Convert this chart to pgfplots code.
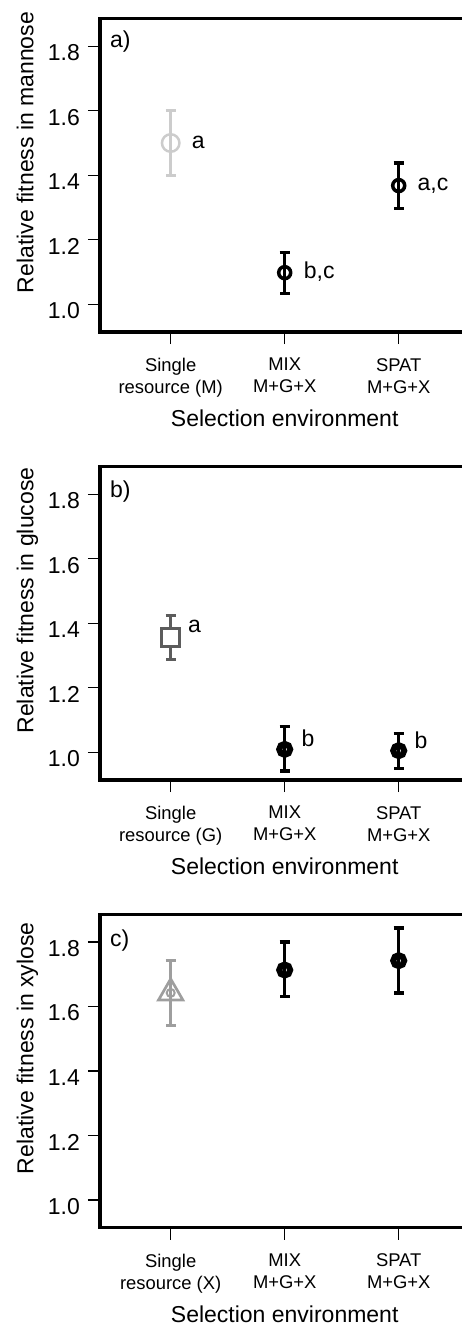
\documentclass[border=0pt]{standalone}
\usepackage{fontspec}
\setmainfont{Liberation Sans}
\usepackage{pgfplots}
\pgfplotsset{compat=1.18}

\definecolor{ga}{gray}{0.80}
\definecolor{gb}{gray}{0.36}
\definecolor{gc}{gray}{0.62}

\newcommand{\bigf}{\fontsize{23}{23}\selectfont}
\newcommand{\smf}{\fontsize{18.4}{22}\selectfont}

\pgfplotsset{
  panel/.style={
    scale only axis, width=369.4pt, height=313.5pt,
    xmin=0.38, xmax=3.62, ymin=0.914, ymax=1.886,
    anchor=south west, clip=false,
    separate axis lines,
    axis line style={line width=3.2pt, line cap=rect},
    xtick pos=left, ytick pos=left,
    tick align=outside, major tick length=12pt,
    tick style={line width=1.1pt, black},
    xtick={1,2,3}, ytick={1,1.2,1.4,1.6,1.8},
    yticklabel style={font=\bigf, inner sep=0pt, anchor=east, xshift=-8pt, yshift=-6.5pt,
      /pgf/number format/.cd, fixed, fixed zerofill, precision=1, assume math mode=true},
    xticklabel style={font=\smf, align=center, inner sep=0pt, anchor=north, yshift=-14pt},
  },
  pt/.style n args={4}{% color, line width, mark, mark size
    draw=#1, line width=#2, mark=#3, mark size=#4, only marks,
    mark options={draw=#1, line width=#2},
    error bars/.cd, y dir=both, y explicit,
    error bar style={draw=#1, line width=3.2pt},
    error mark options={draw=#1, line width=3.2pt, mark size=5pt, rotate=90},
    /pgfplots/.cd,
  },
}

\begin{document}
\begin{tikzpicture}[x=1pt,y=1pt]
\useasboundingbox (0,0) rectangle (462,-1326);
\clip (0,0) rectangle (462,-1326);

% ---------------- panel a ----------------
\begin{axis}[panel, at={(100pt,-332pt)},
  xticklabels={{Single\\resource (M)},{MIX\\M+G+X},{SPAT\\M+G+X}}]
\addplot[pt={ga}{2.5pt}{o}{8.75pt}] coordinates {(1,1.500) += (0,0.100) -= (0,0.100)};
\addplot[pt={black}{3.5pt}{o}{6pt}] coordinates {(2,1.098) += (0,0.063) -= (0,0.064)};
\addplot[pt={black}{3.5pt}{o}{6pt}] coordinates {(3,1.368) += (0,0.070) -= (0,0.070)};
\node[anchor=base west, inner sep=0pt, font=\bigf] at (axis cs:1.184,1.482) {a};
\node[anchor=base west, inner sep=0pt, font=\bigf] at (axis cs:2.167,1.081) {b,c};
\node[anchor=base west, inner sep=0pt, font=\bigf] at (axis cs:3.164,1.353) {a,c};
\node[anchor=base west, inner sep=0pt, font=\bigf] at ([xshift=10pt,yshift=-29pt]rel axis cs:0,1) {a)};
\node[anchor=base, inner sep=0pt, rotate=90, font=\bigf] at ([xshift=-66.7pt]rel axis cs:0,0.5726) {Relative fitness in mannose};
\node[anchor=base, inner sep=0pt, font=\bigf] at ([yshift=-94.5pt]rel axis cs:0.5,0) {Selection environment};
\end{axis}

% ---------------- panel b ----------------
\begin{axis}[panel, at={(100pt,-780pt)},
  xticklabels={{Single\\resource (G)},{MIX\\M+G+X},{SPAT\\M+G+X}}]
\addplot[pt={gb}{2.7pt}{square*}{9pt}, mark options={draw=gb, line width=2.7pt, fill=white}] coordinates {(1,1.356) += (0,0.069) -= (0,0.068)};
\addplot[pt={black}{6pt}{o}{5.5pt}] coordinates {(2,1.009) += (0,0.070) -= (0,0.067)};
\addplot[pt={black}{6pt}{o}{5.5pt}] coordinates {(3,1.005) += (0,0.054) -= (0,0.055)};
\node[anchor=base west, inner sep=0pt, font=\bigf] at (axis cs:1.152,1.370) {a};
\node[anchor=base west, inner sep=0pt, font=\bigf] at (axis cs:2.146,1.017) {b};
\node[anchor=base west, inner sep=0pt, font=\bigf] at (axis cs:3.138,1.012) {b};
\node[anchor=base west, inner sep=0pt, font=\bigf] at ([xshift=10pt,yshift=-31pt]rel axis cs:0,1) {b)};
\node[anchor=base, inner sep=0pt, rotate=90, font=\bigf] at ([xshift=-66.7pt]rel axis cs:0,0.5726) {Relative fitness in glucose};
\node[anchor=base, inner sep=0pt, font=\bigf] at ([yshift=-94.5pt]rel axis cs:0.5,0) {Selection environment};
\end{axis}

% ---------------- panel c ----------------
\begin{axis}[panel, at={(100pt,-1227.7pt)},
  xticklabels={{Single\\resource (X)},{MIX\\M+G+X},{SPAT\\M+G+X}}]
\addplot[pt={gc}{2.7pt}{triangle}{14pt}] coordinates {(1,1.642) += (0,0.100) -= (0,0.102)};
\addplot[only marks, mark=o, mark size=4pt, mark options={draw=gc, line width=2pt}] coordinates {(1,1.642)};
\addplot[pt={black}{6pt}{o}{5.5pt}] coordinates {(2,1.713) += (0,0.087) -= (0,0.083)};
\addplot[pt={black}{6pt}{o}{5.5pt}] coordinates {(3,1.742) += (0,0.101) -= (0,0.100)};
\node[anchor=base west, inner sep=0pt, font=\bigf] at ([xshift=10pt,yshift=-32pt]rel axis cs:0,1) {c)};
\node[anchor=base, inner sep=0pt, rotate=90, font=\bigf] at ([xshift=-66.7pt]rel axis cs:0,0.5726) {Relative fitness in xylose};
\node[anchor=base, inner sep=0pt, font=\bigf] at ([yshift=-94.5pt]rel axis cs:0.5,0) {Selection environment};
\end{axis}
\end{tikzpicture}
\end{document}
